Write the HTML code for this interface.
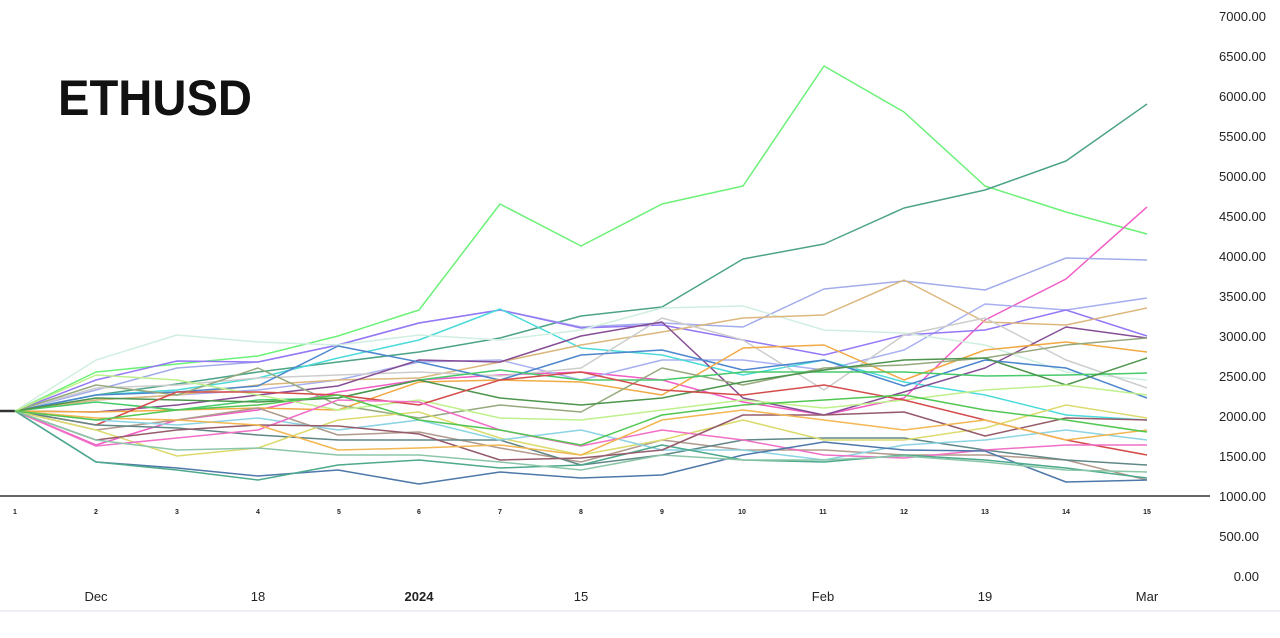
<!DOCTYPE html>
<html><head><meta charset="utf-8"><style>
html,body{margin:0;padding:0;background:#fff;width:1280px;height:638px;overflow:hidden;font-family:"Liberation Sans",sans-serif}
</style></head><body>
<svg width="1280" height="638" xmlns="http://www.w3.org/2000/svg" font-family="Liberation Sans, sans-serif">
<rect width="1280" height="638" fill="#fff"/>
<text x="58" y="115" font-size="50" font-weight="bold" fill="#111" textLength="194" lengthAdjust="spacingAndGlyphs">ETHUSD</text>
<g font-size="13" fill="#222" text-anchor="end">
<text x="1266" y="21">7000.00</text><text x="1266" y="61">6500.00</text><text x="1266" y="101">6000.00</text>
<text x="1266" y="141">5500.00</text><text x="1266" y="181">5000.00</text><text x="1266" y="221">4500.00</text>
<text x="1266" y="261">4000.00</text><text x="1266" y="301">3500.00</text><text x="1266" y="341">3000.00</text>
<text x="1266" y="381">2500.00</text><text x="1266" y="421">2000.00</text><text x="1266" y="461">1500.00</text>
<text x="1266" y="501">1000.00</text><text x="1259" y="541">500.00</text><text x="1259" y="581">0.00</text>
</g>
<line x1="0" y1="496" x2="1210" y2="496" stroke="#666" stroke-width="2"/>
<line x1="0" y1="611" x2="1280" y2="611" stroke="#e8e8f0" stroke-width="1.5"/>
<line x1="0" y1="411" x2="15" y2="411" stroke="#333" stroke-width="2.5"/>
<g font-size="7" fill="#222" text-anchor="middle" font-weight="bold">
<text x="15" y="514">1</text><text x="96" y="514">2</text><text x="177" y="514">3</text><text x="258" y="514">4</text><text x="339" y="514">5</text><text x="419" y="514">6</text><text x="500" y="514">7</text><text x="581" y="514">8</text><text x="662" y="514">9</text><text x="742" y="514">10</text><text x="823" y="514">11</text><text x="904" y="514">12</text><text x="985" y="514">13</text><text x="1066" y="514">14</text><text x="1147" y="514">15</text>
</g>
<g font-size="13" fill="#222" text-anchor="middle">
<text x="96" y="601">Dec</text><text x="258" y="601">18</text><text x="419" y="601" font-weight="bold">2024</text><text x="581" y="601">15</text><text x="823" y="601">Feb</text><text x="985" y="601">19</text><text x="1147" y="601">Mar</text>
</g>
<g fill="none" stroke-width="1.5" stroke-linejoin="round" opacity="0.9">
<polyline stroke="#5df06a" points="15,411 96,372 177,364 258,356 338,336 419,310 500,204 581,246 662,204 743,186 824,66 904,112 985,186 1066,212 1147,234"/>
<polyline stroke="#3a9a7a" points="15,411 96,395 177,384 258,372 338,362 419,352 500,338 581,316 662,307 743,259 824,244 904,208 985,190 1066,161 1147,104"/>
<polyline stroke="#f04ac0" points="15,411 96,445 177,420 258,410 338,392 419,380 500,375 581,372 662,380 743,402 824,415 904,398 985,320 1066,279 1147,207"/>
<polyline stroke="#9aa4e8" points="15,411 96,390 177,368 258,362 338,345 419,323 500,310 581,327 662,323 743,327 824,289 904,281 985,290 1066,258 1147,260"/>
<polyline stroke="#a0a8f0" points="15,411 96,400 177,395 258,390 338,380 419,362 500,360 581,380 662,360 743,360 824,370 904,350 985,304 1066,310 1147,298"/>
<polyline stroke="#8a6af5" points="15,411 96,380 177,361 258,362 338,345 419,323 500,310 581,328 662,325 743,340 824,355 904,335 985,330 1066,310 1147,336"/>
<polyline stroke="#39d6d6" points="15,411 96,395 177,390 258,378 338,358 419,340 500,309 581,348 662,355 743,375 824,360 904,382 985,395 1066,415 1147,420"/>
<polyline stroke="#cdeedd" points="15,411 96,360 177,335 258,342 338,345 419,335 500,340 581,330 662,308 743,306 824,330 904,333 985,345 1066,372 1147,380"/>
<polyline stroke="#d8b070" points="15,411 96,400 177,395 258,385 338,380 419,378 500,362 581,345 662,332 743,318 824,315 904,280 985,322 1066,325 1147,308"/>
<polyline stroke="#c8c8c8" points="15,411 96,388 177,385 258,378 338,375 419,372 500,376 581,368 662,318 743,340 824,390 904,335 985,318 1066,360 1147,388"/>
<polyline stroke="#7a3a8a" points="15,411 96,412 177,405 258,395 338,386 419,360 500,362 581,336 662,322 743,398 824,415 904,392 985,368 1066,327 1147,338"/>
<polyline stroke="#3a7ac8" points="15,411 96,395 177,392 258,386 338,346 419,362 500,380 581,355 662,350 743,370 824,360 904,386 985,360 1066,368 1147,398"/>
<polyline stroke="#f0a030" points="15,411 96,412 177,410 258,408 338,410 419,382 500,380 581,382 662,395 743,348 824,345 904,380 985,350 1066,342 1147,352"/>
<polyline stroke="#8aa070" points="15,411 96,385 177,395 258,368 338,405 419,418 500,405 581,412 662,368 743,385 824,368 904,365 985,358 1066,345 1147,338"/>
<polyline stroke="#33c55a" points="15,411 96,402 177,410 258,400 338,398 419,380 500,370 581,380 662,380 743,372 824,372 904,372 985,376 1066,375 1147,373"/>
<polyline stroke="#3a8a3a" points="15,411 96,398 177,400 258,402 338,398 419,380 500,398 581,405 662,398 743,382 824,370 904,360 985,358 1066,385 1147,358"/>
<polyline stroke="#b8f080" points="15,411 96,375 177,380 258,395 338,410 419,400 500,418 581,420 662,410 743,400 824,408 904,400 985,390 1066,385 1147,395"/>
<polyline stroke="#d03a3a" points="15,411 96,425 177,392 258,392 338,395 419,405 500,380 581,372 662,390 743,395 824,385 904,400 985,420 1066,440 1147,455"/>
<polyline stroke="#a89080" points="15,411 96,430 177,420 258,408 338,435 419,432 500,448 581,462 662,440 743,450 824,450 904,455 985,455 1066,460 1147,480"/>
<polyline stroke="#507a7a" points="15,411 96,425 177,428 258,435 338,440 419,440 500,440 581,465 662,455 743,440 824,438 904,438 985,450 1066,460 1147,465"/>
<polyline stroke="#d8d860" points="15,411 96,430 177,456 258,448 338,420 419,412 500,438 581,455 662,440 743,420 824,440 904,440 985,428 1066,405 1147,418"/>
<polyline stroke="#80d0e0" points="15,411 96,420 177,425 258,418 338,430 419,420 500,440 581,430 662,450 743,450 824,460 904,445 985,440 1066,430 1147,440"/>
<polyline stroke="#f060c0" points="15,411 96,446 177,438 258,430 338,400 419,402 500,430 581,446 662,430 743,440 824,455 904,458 985,450 1066,445 1147,445"/>
<polyline stroke="#3a6aa0" points="15,411 96,462 177,468 258,476 338,470 419,484 500,472 581,478 662,475 743,455 824,442 904,450 985,451 1066,482 1147,480"/>
<polyline stroke="#3aa080" points="15,411 96,462 177,470 258,480 338,465 419,460 500,468 581,465 662,445 743,460 824,462 904,455 985,460 1066,468 1147,478"/>
<polyline stroke="#8a4a5a" points="15,411 96,440 177,430 258,425 338,426 419,434 500,460 581,458 662,450 743,415 824,415 904,412 985,436 1066,418 1147,420"/>
<polyline stroke="#f0b040" points="15,411 96,418 177,420 258,425 338,450 419,448 500,445 581,455 662,420 743,410 824,420 904,430 985,420 1066,440 1147,430"/>
<polyline stroke="#80c0a0" points="15,411 96,440 177,450 258,448 338,455 419,455 500,462 581,470 662,455 743,460 824,460 904,456 985,462 1066,470 1147,472"/>
<polyline stroke="#40c040" points="15,411 96,420 177,410 258,405 338,395 419,420 500,430 581,445 662,415 743,405 824,400 904,395 985,410 1066,420 1147,432"/>
</g>
</svg>
</body></html>
